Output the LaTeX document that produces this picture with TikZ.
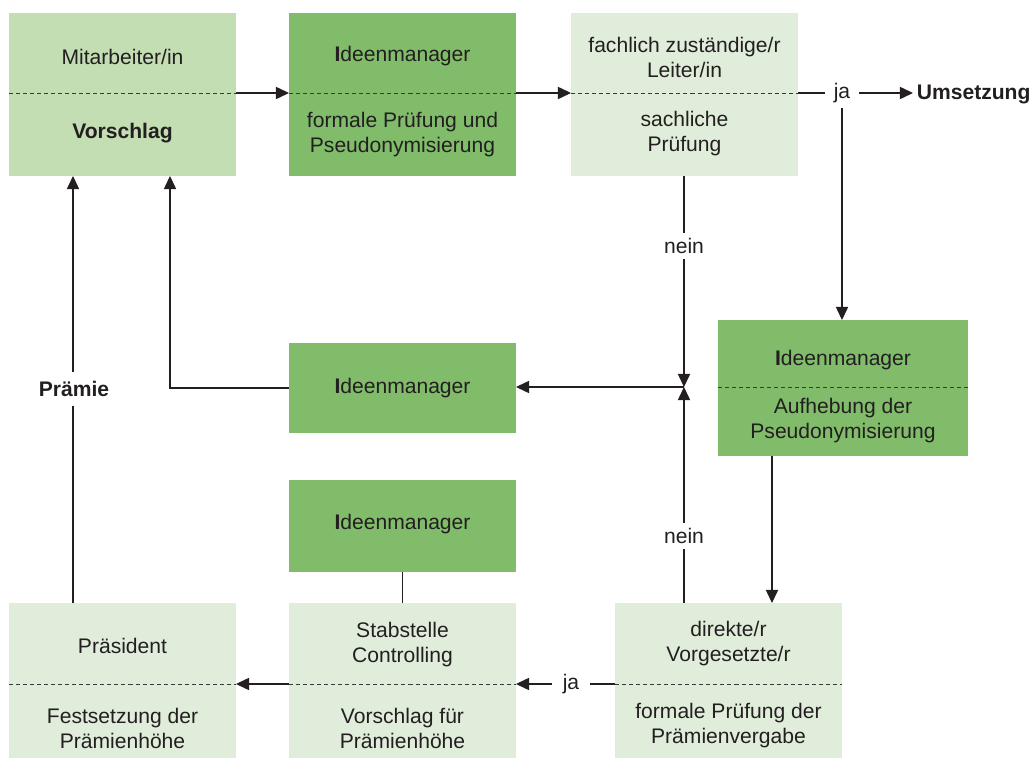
\documentclass[tikz,border=0pt]{standalone}
\usepackage{fontspec}
\setmainfont{Liberation Sans}
\usetikzlibrary{arrows.meta}
\definecolor{gD}{HTML}{80BC6A}
\definecolor{gM}{HTML}{C3DEB3}
\definecolor{gL}{HTML}{E1EDDB}
\definecolor{tx}{HTML}{231F20}
\definecolor{lnc}{HTML}{231F20}
\definecolor{dv}{HTML}{3A3A3A}
\newcommand\pxu{0.02cm}
\begin{document}
\begin{tikzpicture}[x=0.02cm,y=-0.02cm,
  box/.style={rectangle, draw=none, anchor=north west, inner sep=0pt, outer sep=0pt},
  txt/.style={font=\fontsize{12}{14.2}\selectfont, text=tx, align=center, inner sep=1pt},
  lbl/.style={font=\fontsize{12}{14.2}\selectfont, text=tx, inner sep=3pt},
  div/.style={draw=dv, line width=0.55pt, dash pattern=on 2.3pt off 1.7pt},
  conn/.style={draw=lnc, line width=0.6pt},
  arr/.style={conn, -{Triangle[length=7.5pt,width=7pt]}}]
\useasboundingbox (0,0) rectangle (1032,760);

% boxes
\node[box, fill=gM, minimum width=227*\pxu, minimum height=163*\pxu] (m) at (9,13) {};
\node[box, fill=gD, minimum width=227*\pxu, minimum height=163*\pxu] (i1) at (289,13) {};
\node[box, fill=gL, minimum width=227*\pxu, minimum height=163*\pxu] (f) at (571,13) {};
\node[box, fill=gD, minimum width=227*\pxu, minimum height=90*\pxu] (i2) at (289,343) {};
\node[box, fill=gD, minimum width=250*\pxu, minimum height=136*\pxu] (auf) at (718,320) {};
\node[box, fill=gD, minimum width=227*\pxu, minimum height=92*\pxu] (i3) at (289,480) {};
\node[box, fill=gL, minimum width=227*\pxu, minimum height=155*\pxu] (p) at (9,603) {};
\node[box, fill=gL, minimum width=227*\pxu, minimum height=155*\pxu] (s) at (289,603) {};
\node[box, fill=gL, minimum width=227*\pxu, minimum height=155*\pxu] (d) at (615,603) {};

% divider coordinates
\coordinate (mL) at (9,93);   \coordinate (mR) at (236,93);
\coordinate (i1L) at (289,93); \coordinate (i1R) at (516,93);
\coordinate (fL) at (571,93); \coordinate (fR) at (798,93);
\coordinate (aL) at (718,387); \coordinate (aR) at (968,387);
\coordinate (pL) at (9,684);  \coordinate (pR) at (236,684);
\coordinate (sL) at (289,684); \coordinate (sR) at (516,684);
\coordinate (dL) at (615,684); \coordinate (dR) at (842,684);

\draw[div] (mL) -- (mR);
\draw[div] (i1L) -- (i1R);
\draw[div] (fL) -- (fR);
\draw[div] (aL) -- (aR);
\draw[div] (pL) -- (pR);
\draw[div] (sL) -- (sR);
\draw[div] (dL) -- (dR);

% texts
\node[txt] (mT) at (122.5,56.5) {Mitarbeiter/in};
\node[txt] (mB) at (122.5,133.5) {\textbf{Vorschlag}};
\node[txt] (i1T) at (402.5,56.5) {\textbf{I}deenmanager};
\node[txt] (i1B) at (402.5,135) {formale Prüfung und\\Pseudonymisierung};
\node[txt] (fT) at (684.5,57) {fachlich zuständige/r\\Leiter/in};
\node[txt] (fB) at (684.5,134) {sachliche\\Prüfung};
\node[txt] (i2T) at (402.5,388.5) {\textbf{I}deenmanager};
\node[txt] (aT) at (843,360.5) {\textbf{I}deenmanager};
\node[txt] (aB) at (843,421) {Aufhebung der\\Pseudonymisierung};
\node[txt] (i3T) at (402.5,524.5) {\textbf{I}deenmanager};
\node[txt] (pT) at (122.5,645.5) {Präsident};
\node[txt] (pB) at (122.5,728) {Festsetzung der\\Prämienhöhe};
\node[txt] (sT) at (402.5,645) {Stabstelle\\Controlling};
\node[txt] (sB) at (402.5,728) {Vorschlag für\\Prämienhöhe};
\node[txt] (dT) at (728.5,644) {direkte/r\\Vorgesetzte/r};
\node[txt] (dB) at (728.5,726) {formale Prüfung der\\Prämienvergabe};

% labels
\node[lbl, inner xsep=5pt] (ja1) at (842,93) {ja};
\node[lbl, anchor=west, inner xsep=2pt] (ums) at (913,94) {\textbf{Umsetzung}};
\node[lbl] (nein1) at (684,246) {nein};
\node[lbl] (nein2) at (684,536) {nein};
\node[lbl, inner xsep=6pt] (ja2) at (571,684) {ja};
\node[lbl, inner ysep=5pt] (pr) at (74,389) {\textbf{Prämie}};
\coordinate (J) at (684,387);
\coordinate (mS1) at (73,176);
\coordinate (mS2) at (170,176);

% connectors
\draw[arr] (mR) -- (i1L);
\draw[arr] (i1R) -- (fL);
\draw[conn] (fR) -- (ja1.west);
\draw[arr] (ja1.east) -- (ja1.east -| ums.west);
\draw[arr] (ja1.south) -- (ja1.south |- auf.north);
\draw[conn] (f.south -| J) -- (nein1.north);
\draw[arr] (nein1.south) -- (J);
\draw[conn] (d.north -| J) -- (nein2.south);
\draw[arr] (nein2.north) -- (J);
\draw[arr] (J) -- (J -| i2.east);
\draw[arr] (i2.west) -| (mS2);
\draw[arr] (auf.south -| 772,0) -- (d.north -| 772,0);
\draw[conn] (i3.south) -- (i3.south |- s.north);
\draw[conn] (dL) -- (ja2.east);
\draw[arr] (ja2.west) -- (sR);
\draw[arr] (sL) -- (pR);
\draw[conn] (p.north -| mS1) -- (pr.south -| mS1);
\draw[arr] (pr.north -| mS1) -- (mS1);
\end{tikzpicture}
\end{document}
